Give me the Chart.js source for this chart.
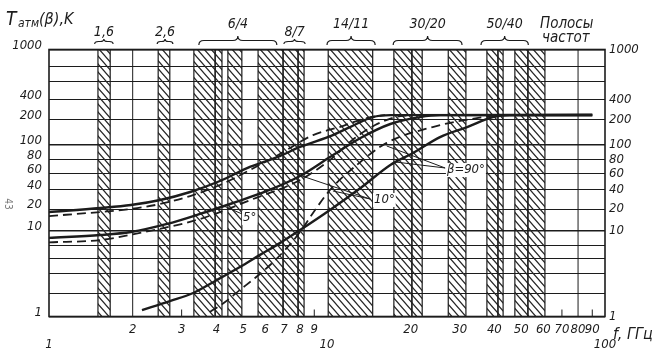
<!DOCTYPE html>
<html><head><meta charset="utf-8">
<script src="https://cdn.jsdelivr.net/npm/chart.js@4.4.1/dist/chart.umd.min.js"></script>
<style>html,body{margin:0;padding:0;background:#fff;}canvas{display:block;}</style>
</head><body>
<canvas id="c" width="657" height="359"></canvas>
<script>
// ---------------- data ----------------
const xTickValues = [1,2,3,4,5,6,7,8,9,10,20,30,40,50,60,70,80,90,100];
const xGridValues = [2, 80];
const xMinorTicks = [3, 9, 70, 90];
const yGridValues = [1,2,4,6,8,10,20,40,60,80,100,200,400,600,800,1000];
const yLabelValues = [1,10,20,40,60,80,100,200,400,1000];

// hatched frequency bands, GHz
const bandStarts = [1.50, 2.47, 3.32, 3.96, 4.40, 5.65, 6.95, 7.87, 10.1, 17.4, 20.2, 27.3, 37.6, 41.2, 47.4, 52.8];
const bandEnds   = [1.66, 2.72, 3.96, 4.19, 4.94, 6.95, 7.87, 8.27, 14.6, 20.2, 22.0, 31.6, 41.2, 43.0, 52.8, 60.8];

// band group labels (top)
const groupLabels = ['1,6','2,6','6/4','8/7','14/11','30/20','50/40'];
const groupFrom   = [1.46, 2.45, 3.46, 7.0, 10.0, 17.3, 35.8];
const groupTo     = [1.70, 2.79, 6.6, 8.34, 14.9, 30.6, 53.0];

// curves: frequency (GHz) and T_atm (K)
const freq5Solid = [1.0, 1.53, 1.97, 2.51, 3.22, 4.12, 5.28, 6.77, 8.0, 10.5, 12.1, 14.6, 16.9, 90];
const temp5Solid = [18.2, 20.7, 23.1, 27.8, 37.2, 49.9, 68.6, 84.4, 97, 131, 163, 218, 234, 235];

const freq5Dash = [1.0, 1.53, 1.97, 2.51, 3.22, 4.12, 5.28, 6.77, 8.91, 11.1, 13.9, 16.2];
const temp5Dash = [16.0, 18.2, 20.0, 24.0, 32.1, 45.2, 64.4, 87.1, 131, 163, 211, 234];

const freq10Solid = [1.0, 1.53, 1.97, 2.66, 3.49, 4.59, 6.08, 8.0, 10.25, 13.2, 16.9, 21.6, 25.5, 90];
const temp10Solid = [9.0, 9.4, 9.85, 12.5, 17.1, 24.9, 38.6, 56.4, 83.1, 121, 177, 218, 234, 235];

const freq10Dash = [1.0, 1.53, 2.0, 3.49, 5.42, 8.0, 10.25, 12.6, 14.9, 17.6, 19.9];
const temp10Dash = [8.4, 8.7, 9.5, 14.6, 28.8, 51.1, 79.2, 121, 172, 218, 234];

const freq90Solid = [2.16, 2.72, 3.30, 4.02, 4.86, 5.74, 6.77, 8.0, 10.25, 13.2, 16.9, 20.4, 25.5, 31.9, 39.5, 45.5, 90];
const temp90Solid = [1.22, 1.61, 2.07, 3.25, 4.8, 6.5, 8.3, 10.3, 19.4, 42, 71.5, 88.4, 124, 163, 218, 234, 235];

const freq90Dash = [3.79, 4.30, 4.86, 5.51, 6.24, 7.06, 8.0, 9.06, 10.25, 12.8, 16.4, 24.0, 36.4, 41.9];
const temp90Dash = [1.15, 1.56, 2.30, 3.48, 5.06, 7.24, 9.85, 19.4, 40, 71.5, 106, 163, 218, 234];

// curve labels and leader lines (data units)
const labelTexts = ['5°', '10°', 'β=90°'];
const labelFreq  = [4.99, 14.76, 27.0];
const labelTemp  = [15.1, 27.8, 64.4];
const leaderFromFreq = [4.95, 14.3, 14.3, 26.6, 26.6];
const leaderFromTemp = [17.1, 28.8, 28.8, 67.2, 67.2];
const leaderToFreq   = [4.09, 10.5, 7.36, 16.4, 17.6];
const leaderToTemp   = [24.0, 38.6, 61.9, 98.5, 76];

// ---------------- custom non-uniform scale of the original drawing ----------------
class WarpScale extends Chart.LinearScale {
  static id = 'warp';
  static KNOT_FRAC = [0,0.0843,0.1592,0.2172,0.2659,0.3202,0.4026,0.4738,0.5356,0.5880,0.6423,0.7378,0.8109,0.8801,0.9382,1];
  determineDataLimits(){ this.min = yGridValues[0]; this.max = yGridValues[yGridValues.length-1]; }
  buildTicks(){ return yGridValues.map(v => ({value: v})); }
  _frac(v){
    const k = yGridValues, F = WarpScale.KNOT_FRAC;
    const lv = Math.log(v);
    let i = 1;
    while (i < k.length - 1 && v > k[i]) i++;
    const t = (lv - Math.log(k[i-1])) / (Math.log(k[i]) - Math.log(k[i-1]));
    return F[i-1] + t * (F[i] - F[i-1]);
  }
  getPixelForValue(v){
    if (v === null || v === undefined || isNaN(v) || v <= 0) return NaN;
    return this.getPixelForDecimal(this._frac(v));
  }
  getValueForPixel(p){
    const d = this.getDecimalForPixel(p), k = yGridValues, F = WarpScale.KNOT_FRAC;
    let i = 1;
    while (i < F.length - 1 && d > F[i]) i++;
    const t = (d - F[i-1]) / (F[i] - F[i-1]);
    return Math.exp(Math.log(k[i-1]) + t * (Math.log(k[i]) - Math.log(k[i-1])));
  }
}
Chart.register(WarpScale);

// ---------------- helpers ----------------
const FAM = "'Liberation Sans Narrow','DejaVu Sans Condensed','Liberation Sans',sans-serif";
const INK = '#1c1c1c';
const pts = (fs, ts) => fs.map((f, i) => ({x: f, y: ts[i]}));

function makeHatch(ctx){
  const c = document.createElement('canvas'); c.width = 7; c.height = 8;
  const g = c.getContext('2d');
  g.strokeStyle = '#262626'; g.lineWidth = 1.2;
  g.beginPath();
  g.moveTo(-1, -8/7); g.lineTo(8, 8 + 8/7);
  g.moveTo(-1, 8 - 8/7); g.lineTo(1, 8 + 8/7);
  g.moveTo(6, -8/7); g.lineTo(8, 8/7);
  g.stroke();
  return ctx.createPattern(c, 'repeat');
}

function brace(ctx, x1, x2, yBase, h){
  const xm = (x1 + x2) / 2, r = Math.min(5, (x2 - x1) / 5), yMid = yBase - h / 2;
  ctx.beginPath();
  ctx.moveTo(x1, yBase);
  ctx.quadraticCurveTo(x1, yMid, x1 + r, yMid);
  ctx.lineTo(xm - r, yMid);
  ctx.quadraticCurveTo(xm, yMid, xm, yBase - h);
  ctx.quadraticCurveTo(xm, yMid, xm + r, yMid);
  ctx.lineTo(x2 - r, yMid);
  ctx.quadraticCurveTo(x2, yMid, x2, yBase);
  ctx.stroke();
}

const decor = {
  id: 'decor',
  beforeDatasetsDraw(chart){
    const {ctx, chartArea: a} = chart, x = chart.scales.x;
    ctx.save();
    const pat = makeHatch(ctx);
    for (let i = 0; i < bandStarts.length; i++){
      const x1 = x.getPixelForValue(bandStarts[i]), x2 = x.getPixelForValue(bandEnds[i]);
      ctx.fillStyle = pat;
      ctx.fillRect(x1, a.top, x2 - x1, a.bottom - a.top);
      ctx.strokeStyle = INK; ctx.lineWidth = 1.2;
      ctx.beginPath();
      ctx.moveTo(x1, a.top); ctx.lineTo(x1, a.bottom);
      ctx.moveTo(x2, a.top); ctx.lineTo(x2, a.bottom);
      ctx.stroke();
    }
    ctx.strokeStyle = INK; ctx.lineWidth = 1;
    ctx.beginPath();
    for (const v of xGridValues){ const px = x.getPixelForValue(v); ctx.moveTo(px, a.top); ctx.lineTo(px, a.bottom); }
    for (const v of xMinorTicks){ const px = x.getPixelForValue(v); ctx.moveTo(px, a.bottom); ctx.lineTo(px, a.bottom - 7); }
    ctx.stroke();
    ctx.lineWidth = 1.6;
    ctx.strokeRect(a.left, a.top, a.right - a.left, a.bottom - a.top);
    ctx.restore();
  },
  afterDatasetsDraw(chart){
    const {ctx} = chart, x = chart.scales.x, y = chart.scales.y;
    ctx.save();
    ctx.strokeStyle = INK; ctx.lineWidth = 1;
    ctx.beginPath();
    for (let i = 0; i < leaderFromFreq.length; i++){
      ctx.moveTo(x.getPixelForValue(leaderFromFreq[i]), y.getPixelForValue(leaderFromTemp[i]));
      ctx.lineTo(x.getPixelForValue(leaderToFreq[i]), y.getPixelForValue(leaderToTemp[i]));
    }
    ctx.stroke();
    ctx.font = `italic 13px ${FAM}`;
    ctx.textBaseline = 'middle'; ctx.textAlign = 'left';
    for (let i = 0; i < labelTexts.length; i++){
      const px = x.getPixelForValue(labelFreq[i]), py = y.getPixelForValue(labelTemp[i]);
      const w = ctx.measureText(labelTexts[i]).width;
      ctx.fillStyle = '#fff';
      ctx.fillRect(px - 1, py - 7, w + 2, 14);
      ctx.fillStyle = INK;
      ctx.fillText(labelTexts[i], px, py);
    }
    ctx.restore();
  },
  afterDraw(chart){
    const {ctx} = chart, x = chart.scales.x;
    ctx.save();
    ctx.fillStyle = INK; ctx.strokeStyle = INK; ctx.lineWidth = 1.2;
    ctx.textAlign = 'center'; ctx.textBaseline = 'alphabetic';
    ctx.font = `italic 14px ${FAM}`;
    for (let i = 0; i < groupLabels.length; i++){
      const x1 = x.getPixelForValue(groupFrom[i]), x2 = x.getPixelForValue(groupTo[i]);
      const small = (x2 - x1) < 30;
      brace(ctx, x1, x2, small ? 44 : 45, small ? 5 : 9);
      ctx.fillText(groupLabels[i], (x1 + x2) / 2, small ? 36 : 28);
    }
    ctx.textAlign = 'left';
    ctx.font = `italic 15px ${FAM}`;
    ctx.fillText('Полосы', 540, 28);
    ctx.fillText('частот', 542, 42);
    ctx.font = `italic 19px ${FAM}`;
    ctx.fillText('T', 6, 25);
    ctx.font = `italic 12px ${FAM}`;
    ctx.fillText('атм', 18, 27);
    ctx.font = `italic 16px ${FAM}`;
    ctx.fillText('(β),K', 39, 24);
    ctx.fillText('f, ГГц', 613, 339);
    ctx.translate(8, 204);
    ctx.rotate(Math.PI / 2);
    ctx.font = `10px ${FAM}`; ctx.fillStyle = '#777'; ctx.textAlign = 'center'; ctx.textBaseline = 'middle';
    ctx.fillText('43', 0, 0);
    ctx.restore();
  }
};

const solid = {borderColor: INK, borderWidth: 2.4, pointRadius: 0, fill: false, cubicInterpolationMode: 'monotone'};
const dashed = {borderColor: INK, borderWidth: 1.8, pointRadius: 0, fill: false, cubicInterpolationMode: 'monotone', borderDash: [9, 5]};

const tickFont = {family: FAM, size: 13, style: 'italic'};

new Chart(document.getElementById('c'), {
  type: 'line',
  data: {
    datasets: [
      {label: '5° solid', data: pts(freq5Solid, temp5Solid), ...solid},
      {label: '5° dashed', data: pts(freq5Dash, temp5Dash), ...dashed},
      {label: '10° solid', data: pts(freq10Solid, temp10Solid), ...solid},
      {label: '10° dashed', data: pts(freq10Dash, temp10Dash), ...dashed},
      {label: '90° solid', data: pts(freq90Solid, temp90Solid), ...solid},
      {label: '90° dashed', data: pts(freq90Dash, temp90Dash), ...dashed}
    ]
  },
  options: {
    responsive: false, animation: false, events: [],
    layout: {padding: {top: 49.5, left: 0, right: 0, bottom: 0}},
    plugins: {legend: {display: false}, tooltip: {enabled: false}},
    scales: {
      x: {
        type: 'logarithmic', position: 'bottom', min: 1, max: 100,
        afterBuildTicks: s => { s.ticks = xTickValues.map(v => ({value: v})); },
        afterFit: s => { s.height = 42.5; },
        grid: {display: false, drawTicks: false}, border: {display: false},
        ticks: {
          autoSkip: false, maxRotation: 0, padding: 5, color: INK, font: tickFont,
          callback: v => [1, 10, 100].includes(v) ? ['', String(v)] : String(v)
        }
      },
      y: {
        type: 'warp', position: 'left',
        afterFit: s => { s.width = 49; },
        grid: {color: INK, drawTicks: false, lineWidth: c => [1, 10, 100, 1000].includes(c.tick && c.tick.value) ? 1.6 : 1},
        border: {display: false},
        ticks: {autoSkip: false, padding: 7, labelOffset: -4, color: INK, font: tickFont,
          callback: v => yLabelValues.includes(v) ? String(v) : ''}
      },
      y2: {
        type: 'warp', position: 'right',
        afterFit: s => { s.width = 52; },
        grid: {display: false, drawTicks: false}, border: {display: false},
        ticks: {autoSkip: false, padding: 4, labelOffset: 0, color: INK, font: tickFont,
          callback: v => yLabelValues.includes(v) ? String(v) : ''}
      }
    }
  },
  plugins: [decor]
});
</script>
</body></html>
